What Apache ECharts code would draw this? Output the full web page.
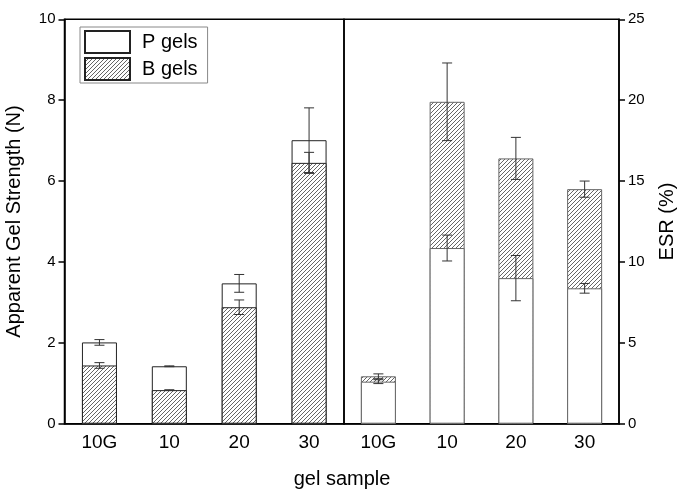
<!DOCTYPE html>
<html>
<head>
<meta charset="utf-8">
<script src="https://cdn.jsdelivr.net/npm/echarts@6/dist/echarts.min.js"></script>
<style>
  html, body { margin: 0; padding: 0; background: #fff; }
  #chart { width: 684px; height: 490px; }
</style>
</head>
<body>
<div id="chart"></div>
<script>
// gel samples
const categories = ['10G', '10', '20', '30']
// apparent gel strength (N)
const strengthP = [2.01, 1.42, 3.47, 7.01]
const strengthPErr = [0.07, 0.01, 0.22, 0.80]
const strengthB = [1.44, 0.83, 2.88, 6.45]
const strengthBErr = [0.07, 0.01, 0.18, 0.26]
// ESR (%)
const esrP = [2.6, 10.86, 9.0, 8.37]
const esrPErr = [0.12, 0.8, 1.4, 0.3]
const esrB = [2.93, 19.9, 16.4, 14.5]
const esrBErr = [0.15, 2.4, 1.3, 0.5]

const font = 'Liberation Sans, Arial, sans-serif'

// diagonal hatch tile
function hatch () {
  let c = document.createElement('canvas')
  c.width = 4
  c.height = 4
  let ctx = c.getContext('2d')
  ctx.fillStyle = '#fff'
  ctx.fillRect(0, 0, 4, 4)
  ctx.strokeStyle = '#555'
  ctx.lineWidth = 0.9
  ctx.beginPath()
  ctx.moveTo(-1, 5); ctx.lineTo(5, -1)
  ctx.moveTo(-1, 1); ctx.lineTo(1, -1)
  ctx.moveTo(3, 5); ctx.lineTo(5, 3)
  ctx.stroke()
  return { image: c, repeat: 'repeat' }
}
const hatchFill = hatch()

function errSeries (vals, errs, gi) {
  return {
    type: 'custom',
    xAxisIndex: gi,
    yAxisIndex: gi,
    z: 10,
    silent: true,
    data: vals.map((v, i) => [i, v, errs[i]]),
    renderItem (params, api) {
      let x = api.value(0), v = api.value(1), e = api.value(2)
      let top = api.coord([x, v + e])
      let bot = api.coord([x, v - e])
      let w = 5
      let style = { stroke: '#333', lineWidth: 1 }
      return {
        type: 'group',
        children: [
          { type: 'line', shape: { x1: top[0], y1: top[1], x2: bot[0], y2: bot[1] }, style },
          { type: 'line', shape: { x1: top[0] - w, y1: top[1], x2: top[0] + w, y2: top[1] }, style },
          { type: 'line', shape: { x1: bot[0] - w, y1: bot[1], x2: bot[0] + w, y2: bot[1] }, style }
        ]
      }
    }
  }
}

function xAxis (gi) {
  return {
    type: 'category',
    gridIndex: gi,
    data: categories,
    axisLine: { lineStyle: { color: '#000', width: 1.5 } },
    axisTick: { alignWithLabel: true, length: 7, lineStyle: { color: '#000', width: 1.5 } },
    axisLabel: { color: '#000', fontSize: 19, fontFamily: font, margin: 10 }
  }
}

let chart = echarts.init(document.getElementById('chart'))
let option = {
  animation: false,
  backgroundColor: '#fff',
  grid: [
    { left: 64.5, top: 19.3, width: 279.5, height: 404.4, show: true, borderColor: '#000', borderWidth: 1.5 },
    { left: 344, top: 19.3, width: 275, height: 404.4, show: true, borderColor: '#000', borderWidth: 1.5 }
  ],
  legend: {
    data: ['P gels', 'B gels'],
    icon: 'rect',
    orient: 'vertical',
    left: 80,
    top: 27,
    itemWidth: 45,
    itemHeight: 22,
    itemGap: 3,
    padding: [3, 10, 2, 4],
    borderColor: '#888',
    borderWidth: 1,
    textStyle: { color: '#000', fontSize: 20, fontFamily: font, padding: [0, 0, 0, 7] }
  },
  xAxis: [xAxis(0), xAxis(1)],
  yAxis: [
    {
      type: 'value',
      gridIndex: 0,
      min: 0,
      max: 10,
      interval: 2,
      name: 'Apparent Gel Strength (N)',
      nameLocation: 'middle',
      nameRotate: 90,
      nameGap: 40,
      nameTextStyle: { color: '#000', fontSize: 20, fontFamily: font },
      splitLine: { show: false },
      axisLine: { show: true, lineStyle: { color: '#000', width: 1.5 } },
      axisTick: { show: true, length: 6, lineStyle: { color: '#000', width: 1.5 } },
      axisLabel: { color: '#000', fontSize: 15, fontFamily: font, margin: 9 }
    },
    {
      type: 'value',
      gridIndex: 1,
      position: 'right',
      min: 0,
      max: 25,
      interval: 5,
      name: 'ESR (%)',
      nameLocation: 'middle',
      nameRotate: 90,
      nameGap: 38,
      nameTextStyle: { color: '#000', fontSize: 20, fontFamily: font },
      splitLine: { show: false },
      axisLine: { show: true, lineStyle: { color: '#000', width: 1.5 } },
      axisTick: { show: true, length: 6, lineStyle: { color: '#000', width: 1.5 } },
      axisLabel: { color: '#000', fontSize: 15, fontFamily: font, margin: 9 }
    }
  ],
  graphic: [
    {
      type: 'text',
      left: 'center',
      top: 469,
      style: { text: 'gel sample', fill: '#000', fontSize: 20, fontFamily: font }
    }
  ],
  series: [
    {
      name: 'P gels', type: 'bar', xAxisIndex: 0, yAxisIndex: 0,
      barWidth: 35, barGap: '-100%', data: strengthP,
      itemStyle: { color: '#fff', borderColor: '#222', borderWidth: 1 }
    },
    {
      name: 'B gels', type: 'bar', xAxisIndex: 0, yAxisIndex: 0,
      barWidth: 35, barGap: '-100%', data: strengthB,
      itemStyle: { color: hatchFill, borderColor: '#222', borderWidth: 1 }
    },
    {
      name: 'B gels', type: 'bar', xAxisIndex: 1, yAxisIndex: 1,
      barWidth: 35, barGap: '-100%', data: esrB,
      itemStyle: { color: hatchFill, borderColor: '#666', borderWidth: 1 }
    },
    {
      name: 'P gels', type: 'bar', xAxisIndex: 1, yAxisIndex: 1,
      barWidth: 35, barGap: '-100%', data: esrP,
      itemStyle: { color: '#fff', borderColor: '#666', borderWidth: 1 }
    },
    errSeries(strengthP, strengthPErr, 0),
    errSeries(strengthB, strengthBErr, 0),
    errSeries(esrP, esrPErr, 1),
    errSeries(esrB, esrBErr, 1)
  ]
}
chart.setOption(option)
</script>
</body>
</html>
